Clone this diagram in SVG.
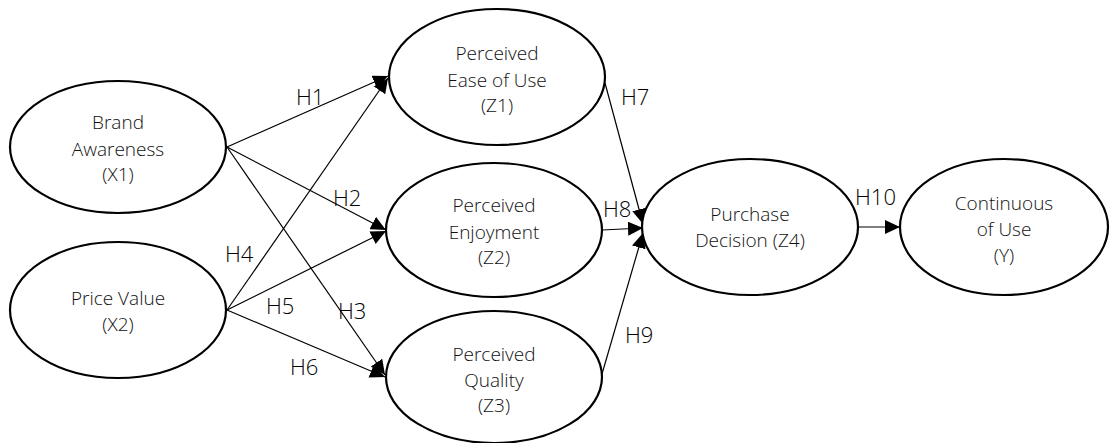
<svg xmlns="http://www.w3.org/2000/svg" width="1110" height="443" viewBox="0 0 1110 443">
<style>
.node ellipse{fill:#fff;stroke:#000;stroke-width:2.2}
.node text{font-family:"Open Sans","DejaVu Sans",sans-serif;font-weight:300;font-size:19px;fill:#111;text-anchor:middle}
.lbl{font-family:"Open Sans","DejaVu Sans",sans-serif;font-weight:300;font-size:22px;fill:#000}
.edge{stroke:#000;stroke-width:1.2;fill:none;marker-end:url(#ah)}
</style>
<defs>
<marker id="ah" markerUnits="userSpaceOnUse" markerWidth="16" markerHeight="14" refX="15" refY="7" orient="auto">
<path d="M0,0 L15,7 L0,14 Z" fill="#000"/>
</marker>
</defs>
<rect width="1110" height="443" fill="#fff"/>
<g id="connectors">
<line class="edge" x1="227" y1="147" x2="388" y2="76"/>
<line class="edge" x1="227" y1="147" x2="386" y2="230"/>
<line class="edge" x1="227" y1="147" x2="385" y2="375"/>
<line class="edge" x1="227" y1="310" x2="388" y2="78"/>
<line class="edge" x1="227" y1="310" x2="386" y2="231"/>
<line class="edge" x1="227" y1="310" x2="385" y2="377"/>
<line class="edge" x1="605" y1="83" x2="643" y2="224"/>
<line class="edge" x1="602" y1="230" x2="643" y2="228"/>
<line class="edge" x1="602" y1="374" x2="643" y2="233"/>
<line class="edge" x1="858" y1="227" x2="900" y2="227"/>
</g>
<g id="labels">
<text class="lbl" x="296" y="105">H1</text>
<text class="lbl" x="333" y="206">H2</text>
<text class="lbl" x="338" y="319">H3</text>
<text class="lbl" x="225" y="262">H4</text>
<text class="lbl" x="266" y="314">H5</text>
<text class="lbl" x="290" y="375">H6</text>
<text class="lbl" x="621" y="105">H7</text>
<text class="lbl" x="603" y="217">H8</text>
<text class="lbl" x="625" y="343">H9</text>
<text class="lbl" x="855" y="205">H10</text>
</g>
<g id="X1" class="node">
<ellipse cx="118" cy="147" rx="108" ry="66"/>
<text x="118" y="129">Brand</text>
<text x="118" y="156">Awareness</text>
<text x="118" y="181">(X1)</text>
</g>
<g id="X2" class="node">
<ellipse cx="118" cy="310" rx="108" ry="68"/>
<text x="118" y="305">Price Value</text>
<text x="118" y="331">(X2)</text>
</g>
<g id="Z1" class="node">
<ellipse cx="497" cy="77" rx="108" ry="68"/>
<text x="497" y="60">Perceived</text>
<text x="497" y="87">Ease of Use</text>
<text x="497" y="112">(Z1)</text>
</g>
<g id="Z2" class="node">
<ellipse cx="494" cy="230" rx="108" ry="67"/>
<text x="494" y="212">Perceived</text>
<text x="494" y="239">Enjoyment</text>
<text x="494" y="264">(Z2)</text>
</g>
<g id="Z3" class="node">
<ellipse cx="494" cy="377" rx="108" ry="66"/>
<text x="494" y="361">Perceived</text>
<text x="494" y="387">Quality</text>
<text x="494" y="412">(Z3)</text>
</g>
<g id="Z4" class="node">
<ellipse cx="750" cy="227" rx="108" ry="68"/>
<text x="750" y="221">Purchase</text>
<text x="750" y="247">Decision (Z4)</text>
</g>
<g id="Y" class="node">
<ellipse cx="1004" cy="227" rx="104" ry="68"/>
<text x="1004" y="210">Continuous</text>
<text x="1004" y="236">of Use</text>
<text x="1004" y="262">(Y)</text>
</g>
</svg>
